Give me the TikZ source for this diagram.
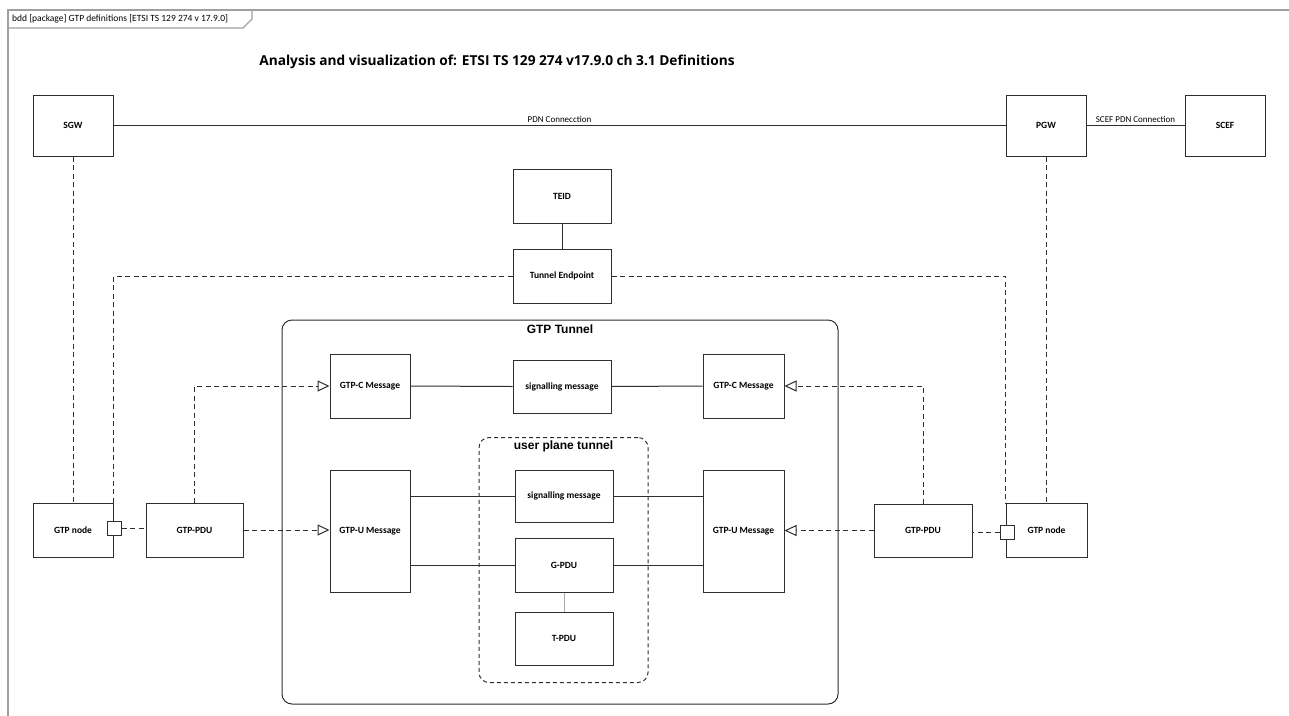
\documentclass[tikz,border=0pt]{standalone}
\usepackage{fontspec}
\setmainfont{Carlito}
\newfontfamily\headfont{Open Sans}
\newfontfamily\arialfont{Liberation Sans}
\usetikzlibrary{arrows.meta}
\definecolor{edgec}{HTML}{2E2E2E}
\definecolor{framec}{HTML}{A0A0A0}
\definecolor{lightc}{HTML}{A8A8A8}
\begin{document}
\begin{tikzpicture}[x=1pt,y=-1pt,
  blk/.style={draw=edgec,line width=1pt,fill=white,rectangle,inner sep=0pt,
    font=\fontsize{9.5}{11}\selectfont\bfseries,text=black},
  port/.style={draw=edgec,line width=1pt,fill=white,rectangle,inner sep=0pt,
    minimum width=14pt,minimum height=14pt},
  link/.style={draw=edgec,line width=1pt},
  dep/.style={draw=edgec,line width=1pt,dash pattern=on 5pt off 3.5pt},
  realize/.style={dep,-{Triangle[open,length=12pt,width=11pt,fill=white]}},
  group/.style={draw=edgec,line width=1pt,rectangle,rounded corners=10pt,inner sep=0pt},
  grptitle/.style={font=\arialfont\fontsize{12}{14}\selectfont\bfseries,anchor=north,inner sep=0pt},
  elabel/.style={font=\fontsize{9}{10}\selectfont,inner sep=2pt,text=black}
]
\useasboundingbox (0,0) rectangle (1289,715);

% diagram frame with its name tab
\draw[draw=framec,line width=2pt] (1292,9.5) -- (7.5,9.5) -- (7.5,718);
\draw[draw=framec,line width=1.2pt] (7.5,28) -- (243,28) -- (252,19) -- (252,9.5);
\node[anchor=west,inner sep=0pt,font=\fontsize{9.5}{11}\selectfont] (tab) at (12,18.5)
  {bdd [package] GTP definitions [ETSI TS 129 274 v 17.9.0]};

% heading
\node[font=\headfont\fontsize{13.7}{16}\selectfont\bfseries,inner sep=0pt] (title) at (497,62)
  {Analysis and visualization of: ETSI TS 129 274 v17.9.0 ch 3.1 Definitions};

% containers
\node[group,minimum width=556pt,minimum height=384pt] (tun) at (560,512) {};
\node[grptitle] (tunt) at ([yshift=-5pt]tun.north) {GTP Tunnel};
\node[group,dashed,dash pattern=on 4pt off 3pt,minimum width=169pt,minimum height=245pt] (upt) at (563.5,560) {};
\node[grptitle] (uptt) at ([yshift=-4pt]upt.north) {user plane tunnel};

% network elements
\node[blk,minimum width=80pt,minimum height=61pt] (sgw) at (73,125.5) {SGW};
\node[blk,minimum width=80pt,minimum height=61pt] (pgw) at (1046,125.5) {PGW};
\node[blk,minimum width=80pt,minimum height=61pt] (scef) at (1225,125.5) {SCEF};

% tunnel identification
\node[blk,minimum width=98pt,minimum height=54pt] (teid) at (562,196) {TEID};
\node[blk,minimum width=98pt,minimum height=54pt] (tep) at (562,276) {Tunnel Endpoint};

% control plane messages
\node[blk,minimum width=80pt,minimum height=64pt] (gtpcl) at (370,386) {GTP-C Message};
\node[blk,minimum width=98pt,minimum height=53pt] (sig1) at (562,386.5) {signalling message};
\node[blk,minimum width=81pt,minimum height=64pt] (gtpcr) at (743.5,386) {GTP-C Message};

% user plane messages
\node[blk,minimum width=80pt,minimum height=122pt] (gtpul) at (370,531) {GTP-U Message};
\node[blk,minimum width=81pt,minimum height=122pt] (gtpur) at (743.5,531) {GTP-U Message};
\node[blk,minimum width=98pt,minimum height=52pt] (sig2) at (564,496) {signalling message};
\node[blk,minimum width=98pt,minimum height=54pt] (gpdu) at (564,565) {G-PDU};
\node[blk,minimum width=98pt,minimum height=53pt] (tpdu) at (564,638.5) {T-PDU};

% GTP nodes and their PDUs
\node[blk,minimum width=80pt,minimum height=54pt] (gtpnl) at (73,530) {GTP node};
\node[blk,minimum width=97pt,minimum height=54pt] (gpdul) at (194.5,530) {GTP-PDU};
\node[blk,minimum width=98pt,minimum height=53pt] (gpdur) at (923,530.5) {GTP-PDU};
\node[blk,minimum width=81pt,minimum height=54pt] (gtpnr) at (1046.5,530.5) {GTP node};
\node[port] (portl) at (114,528.5) {};
\node[port] (portr) at (1007,532) {};

% associations
\draw[link] (sgw.east) -- node[elabel,above] {PDN Connecction} (pgw.west);
\draw[link] (pgw.east) -- node[elabel,above] {SCEF PDN Connection} (scef.west);
\draw[link] (teid.south) -- (tep.north);
\draw[link] (gtpcl.east) -- (sig1.west);
\draw[link] (sig1.east) -- (gtpcr.west);
\draw[link] (gtpul.east |- sig2.west) -- (sig2.west);
\draw[link] (sig2.east) -- (sig2.east -| gtpur.west);
\draw[link] (gtpul.east |- gpdu.west) -- (gpdu.west);
\draw[link] (gpdu.east) -- (gpdu.east -| gtpur.west);
\draw[draw=lightc,line width=1pt] (gpdu.south) -- (tpdu.north);

% dependencies
\draw[dep] (sgw.south) -- (gtpnl.north);
\draw[dep] (pgw.south) -- (pgw.south |- gtpnr.north);
\draw[dep] (tep.west) -| (gtpnl.north east);
\draw[dep] (tep.east) -| (gtpnr.north west);
\draw[dep] (portl.east) -- (portl.east -| gpdul.west);
\draw[dep] (portr.west) -- (portr.west -| gpdur.east);
\draw[realize] (gpdul.north) |- (gtpcl.west);
\draw[realize] (gpdur.north) |- (gtpcr.east);
\draw[realize] (gpdul.east) -- (gpdul.east -| gtpul.west);
\draw[realize] (gpdur.west) -- (gpdur.west -| gtpur.east);
\end{tikzpicture}
\end{document}
